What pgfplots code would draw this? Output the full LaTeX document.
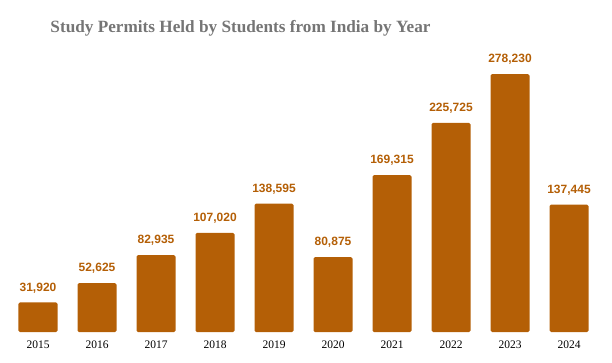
\documentclass[border=0pt]{standalone}
\usepackage{pgfplots}
\pgfplotsset{compat=1.18}
\usepackage{fontspec}
\setmainfont{Liberation Serif}
\newfontfamily\labelfont{Liberation Sans}
\definecolor{barc}{HTML}{B45F06}
\definecolor{titlec}{HTML}{757575}
\begin{document}
\begin{tikzpicture}[x=1pt,y=1pt]
\useasboundingbox (0,0) rectangle (612,362);
\node[font=\fontsize{17.2}{20}\selectfont\bfseries, text=titlec, anchor=center] at (240.5,334) {Study Permits Held by Students from India by Year};
\begin{axis}[
  at={(8.5pt,30pt)}, anchor=south west,
  scale only axis, width=590pt, height=278pt,
  xmin=-0.5, xmax=9.5, ymin=0, ymax=300000,
  axis line style={draw=none},
  ymajorticks=false,
  major tick length=0pt,
  xtick=data,
  xticklabels={2015,2016,2017,2018,2019,2020,2021,2022,2023,2024},
  xticklabel style={font=\fontsize{11.5}{13}\selectfont, yshift=-5pt},
  ybar, bar width=39pt,
  /pgf/number format/assume math mode=true,
  nodes near coords={\pgfmathprintnumber[fixed,precision=0,1000 sep={,}]{\pgfplotspointmeta}},
  every node near coord/.append style={font=\fontsize{12}{14}\selectfont\labelfont\bfseries, text=barc, yshift=6pt},
  clip=false,
]
\addplot[fill=barc, draw=none, rounded corners=1.5pt] coordinates {
(0,31920) (1,52625) (2,82935) (3,107020) (4,138595) (5,80875) (6,169315) (7,225725) (8,278230) (9,137445)};
\end{axis}
\end{tikzpicture}
\end{document}
